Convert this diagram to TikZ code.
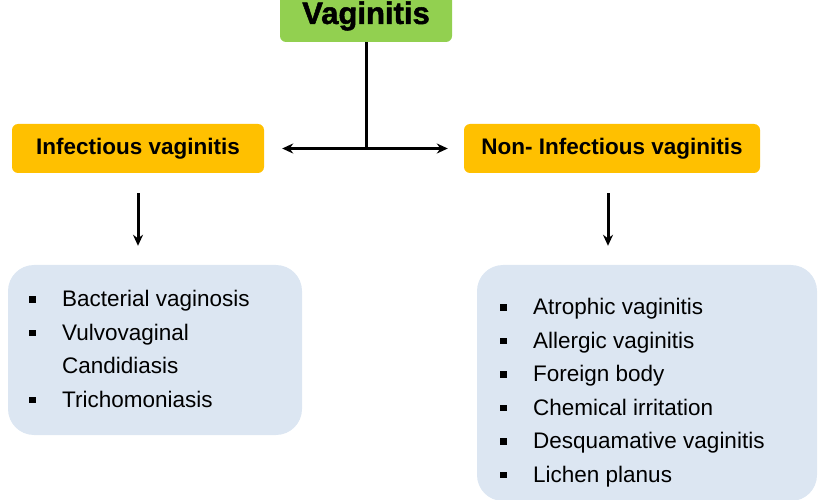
\documentclass[tikz,border=0pt]{standalone}
\usepackage{fontspec}
\setmainfont{Liberation Sans}
\newfontfamily\titlefont[FakeBold=1.6]{Liberation Sans Bold}
\usetikzlibrary{positioning}
\usetikzlibrary{calc}
\usetikzlibrary{arrows.meta}
\newcommand{\drawcolor}{black}
\definecolor{titlegreen}{HTML}{92D050}
\definecolor{groupamber}{HTML}{FFC000}
\definecolor{listblue}{HTML}{DCE6F2}
\newcommand{\sqitem}{\makebox[33pt][l]{\rule[4pt]{6.5pt}{6.5pt}}}
\newcommand{\noitem}{\hspace*{33pt}}
\tikzstyle{titlemodule}=[\drawcolor, align=center, rounded corners=6, fill=titlegreen, minimum width=172pt, minimum height=52pt, font=\titlefont\fontsize{31}{31}\selectfont]
\tikzstyle{groupmodule}=[\drawcolor, align=center, rounded corners=6, fill=groupamber, minimum height=49pt, font=\bfseries\fontsize{22.5}{22.5}\selectfont]
\tikzstyle{listmodule}=[rounded corners=26, fill=listblue]
\tikzstyle{listtext}=[\drawcolor, align=left, inner sep=0pt, anchor=base west, font=\fontsize{22.5}{33.5}\selectfont]
\tikzstyle{flowarrow}=[\drawcolor, -{Stealth[length=11pt, width=10pt]}, line width=3pt]

\begin{document}
\begin{tikzpicture}[x=1pt, y=-1pt]
    \clip (0, 0) rectangle (823, 500);
    \useasboundingbox (0, 0) rectangle (823, 500);

    \node[titlemodule] at (366, 16) (title) {\raisebox{-3pt}{Vaginitis}};

    \node[groupmodule, minimum width=252pt] at (138, 148.5) (infectious) {Infectious vaginitis};
    \node[groupmodule, minimum width=296pt] at (612, 148.5) (noninfectious) {Non- Infectious vaginitis};

    \node[listmodule, minimum width=294pt, minimum height=170pt] at (155, 350) (infectiousBox) {};
    \node[listmodule, minimum width=340pt, minimum height=236pt] at (647, 383) (noninfectiousBox) {};

    % base anchor sits on the last line
    \node[listtext] at (29, 407) (infectiousList) {\sqitem Bacterial vaginosis\\
        \sqitem Vulvovaginal\\
        \noitem Candidiasis\\
        \sqitem Trichomoniasis};

    \node[listtext] at (500, 482) (noninfectiousList) {\sqitem Atrophic vaginitis\\
        \sqitem Allergic vaginitis\\
        \sqitem Foreign body\\
        \sqitem Chemical irritation\\
        \sqitem Desquamative vaginitis\\
        \sqitem Lichen planus};

    % Arrows
    \coordinate (split) at (title.south |- infectious.east);
    \draw[\drawcolor, line width=3pt] (title.south) -- (split);
    \draw[flowarrow] (split) -- ($(infectious.east) + (18, 0)$);
    \draw[flowarrow] (split) -- ($(noninfectious.west) + (-16, 0)$);

    \draw[flowarrow] ($(infectious.south) + (0, 20)$) -- ($(infectious.south |- infectiousBox.north) + (0, -19)$);
    \draw[flowarrow] ($(noninfectious.south) + (-4, 20)$) -- ($(noninfectious.south |- noninfectiousBox.north) + (-4, -19)$);
\end{tikzpicture}
\end{document}
